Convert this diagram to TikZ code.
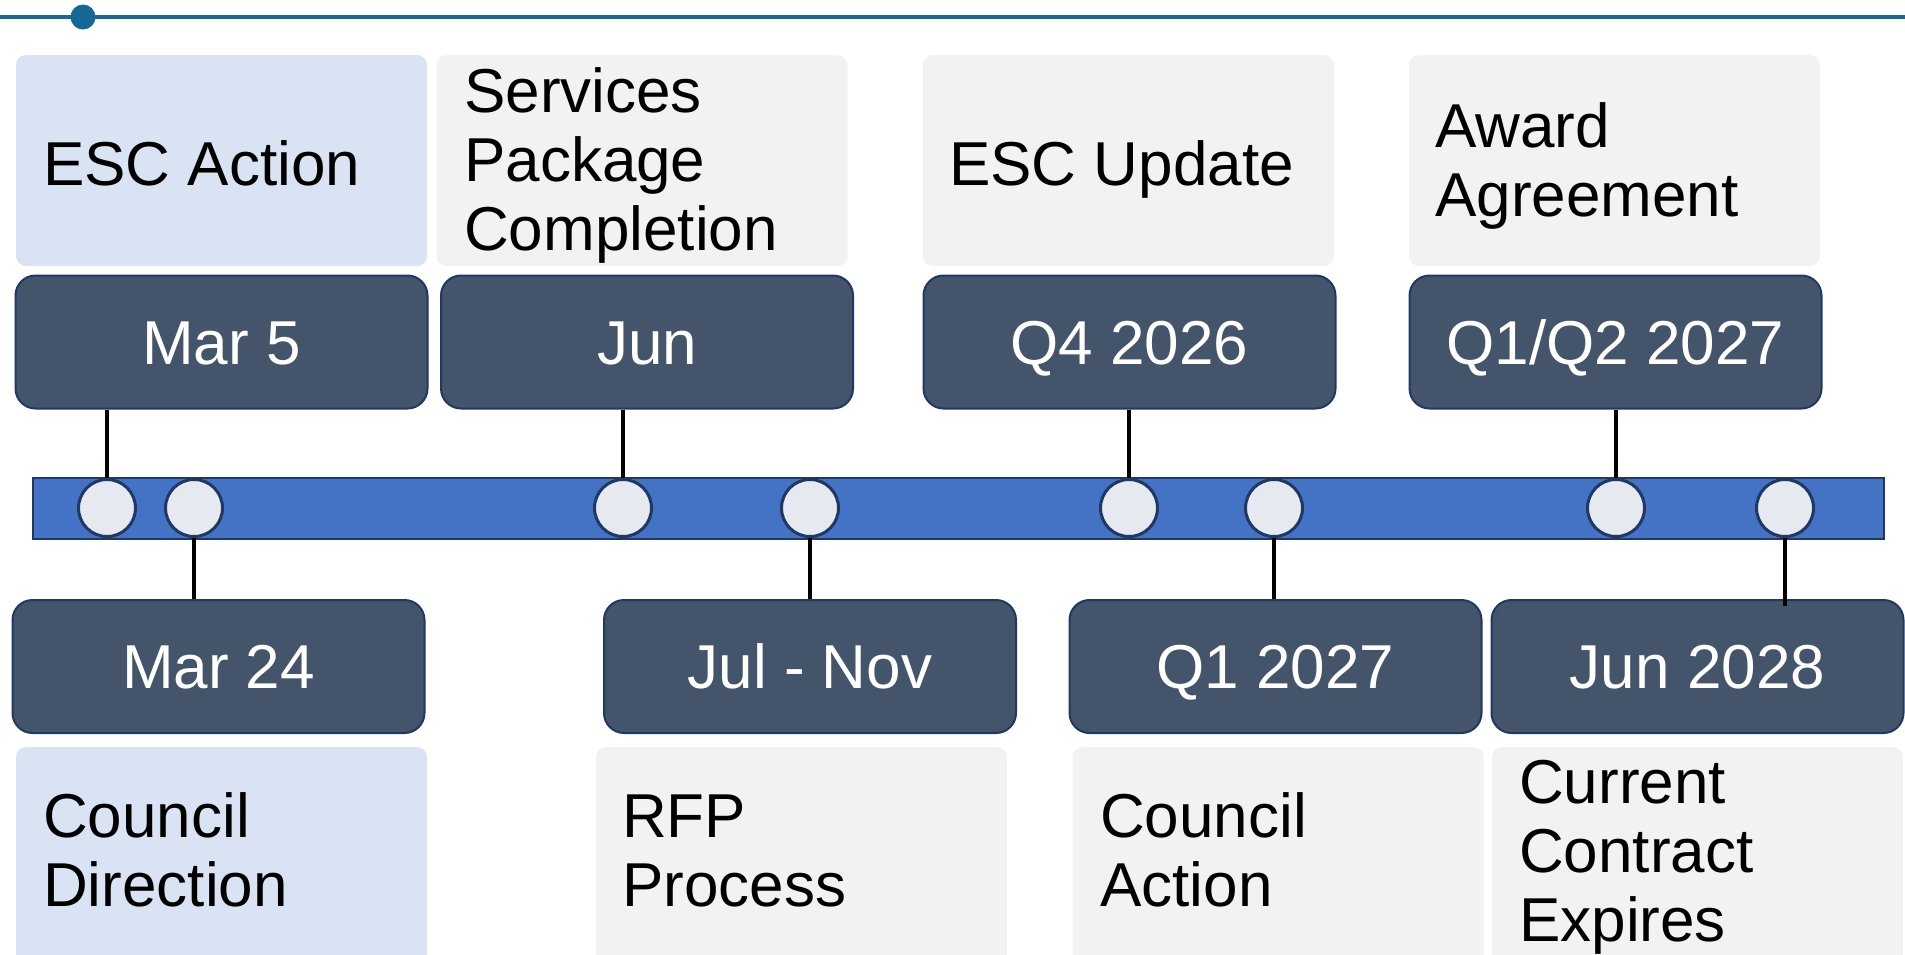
\documentclass[tikz,border=0pt]{standalone}
\usepackage{fontspec}
\setmainfont{Liberation Sans}
\definecolor{slate}{HTML}{44546A}
\definecolor{navy}{HTML}{1F3864}
\definecolor{barblue}{HTML}{4472C4}
\definecolor{dotgray}{HTML}{E6E9EF}
\definecolor{paleblue}{HTML}{DAE3F3}
\definecolor{palegray}{HTML}{F2F2F2}
\definecolor{teal}{RGB}{22,104,150}
\tikzset{
  bigfont/.style={font=\fontsize{62}{69}\selectfont},
  datebox/.style={draw=navy, line width=2pt, fill=slate, rounded corners=20pt,
    minimum width=412pt, minimum height=133pt, inner sep=0pt, text=white, bigfont,
    text height=44pt, text depth=0pt},
  notebox/.style={rounded corners=10pt, minimum width=411pt, inner sep=0pt},
  notetxt/.style={anchor=base west, inner sep=0pt, text=black, bigfont},
  stem/.style={line width=3.5pt, black},
  tick/.style={circle, draw=navy, line width=3pt, fill=dotgray, minimum size=57pt, inner sep=0pt},
}
\begin{document}
\begin{tikzpicture}[x=1pt, y=-1pt]
\path[use as bounding box] (0,0) rectangle (1905,954);
\clip (0,0) rectangle (1905,954);
% top rule
\coordinate (ruleL) at (0,17);
\coordinate (ruleR) at (1905,17);
\draw[teal, line width=3.5pt] (ruleL) -- (ruleR);
\node[circle, fill=teal, minimum size=25pt, inner sep=0pt] (ruledot) at (83,17) {};
% note boxes top
\node[notebox, fill=paleblue, minimum height=211pt] (n1) at (221.5,160.5) {};
\node[notebox, fill=palegray, minimum height=211pt] (n2) at (642,160.5) {};
\node[notebox, fill=palegray, minimum height=211pt] (n3) at (1128.5,160.5) {};
\node[notebox, fill=palegray, minimum height=211pt] (n4) at (1614.5,160.5) {};
% note boxes bottom
\node[notebox, fill=paleblue, minimum height=230pt] (m1) at (221.5,862) {};
\node[notebox, fill=palegray, minimum height=230pt] (m2) at (801.5,862) {};
\node[notebox, fill=palegray, minimum height=230pt] (m3) at (1278,862) {};
\node[notebox, fill=palegray, minimum height=230pt] (m4) at (1697.5,862) {};
% note texts
\node[notetxt] (t1) at (43,185) {ESC Action};
\node[notetxt] (t2) at (464,112) {\begin{tabular}[t]{@{}l@{}}Services\\Package\\Completion\end{tabular}};
\node[notetxt] (t3) at (949,185) {ESC Update};
\node[notetxt] (t4) at (1435,147) {\begin{tabular}[t]{@{}l@{}}Award\\Agreement\end{tabular}};
\node[notetxt] (u1) at (43,837) {\begin{tabular}[t]{@{}l@{}}Council\\Direction\end{tabular}};
\node[notetxt] (u2) at (622,837) {\begin{tabular}[t]{@{}l@{}}RFP\\Process\end{tabular}};
\node[notetxt] (u3) at (1100,837) {\begin{tabular}[t]{@{}l@{}}Council\\Action\end{tabular}};
\node[notetxt] (u4) at (1519,803) {\begin{tabular}[t]{@{}l@{}}Current\\Contract\\Expires\end{tabular}};
% date boxes
\node[datebox] (d1) at (221.5,342) {Mar 5};
\node[datebox] (d2) at (647,342) {Jun};
\node[datebox] (d3) at (1129.5,342) {Q4 2026};
\node[datebox] (d4) at (1615.5,342) {Q1/Q2 2027};
\node[datebox] (e1) at (218.5,666.5) {Mar 24};
\node[datebox] (e2) at (810,666.5) {Jul - Nov};
\node[datebox] (e3) at (1275.5,666.5) {Q1 2027};
\node[datebox] (e4) at (1697.5,666.5) {Jun 2028};
% bar
\node[draw=navy, line width=2.5pt, fill=barblue, minimum width=1851pt, minimum height=61pt, inner sep=0pt] (bar) at (958.5,508.5) {};
% ticks
\node[tick] (k1) at (107,508) {};
\node[tick] (k2) at (194,508) {};
\node[tick] (k3) at (623,508) {};
\node[tick] (k4) at (810,508) {};
\node[tick] (k5) at (1129,508) {};
\node[tick] (k6) at (1274,508) {};
\node[tick] (k7) at (1616,508) {};
\node[tick] (k8) at (1785,508) {};
% stems
\draw[stem] (d1.south -| k1) -- (k1.north);
\draw[stem] (d2.south -| k3) -- (k3.north);
\draw[stem] (d3.south -| k5) -- (k5.north);
\draw[stem] (d4.south -| k7) -- (k7.north);
\draw[stem] (k2.south) -- (e1.north -| k2);
\draw[stem] (k4.south) -- (e2.north -| k4);
\draw[stem] (k6.south) -- (e3.north -| k6);
\draw[stem] (k8.south) -- ([yshift=-7pt]e4.north -| k8);
\end{tikzpicture}
\end{document}
